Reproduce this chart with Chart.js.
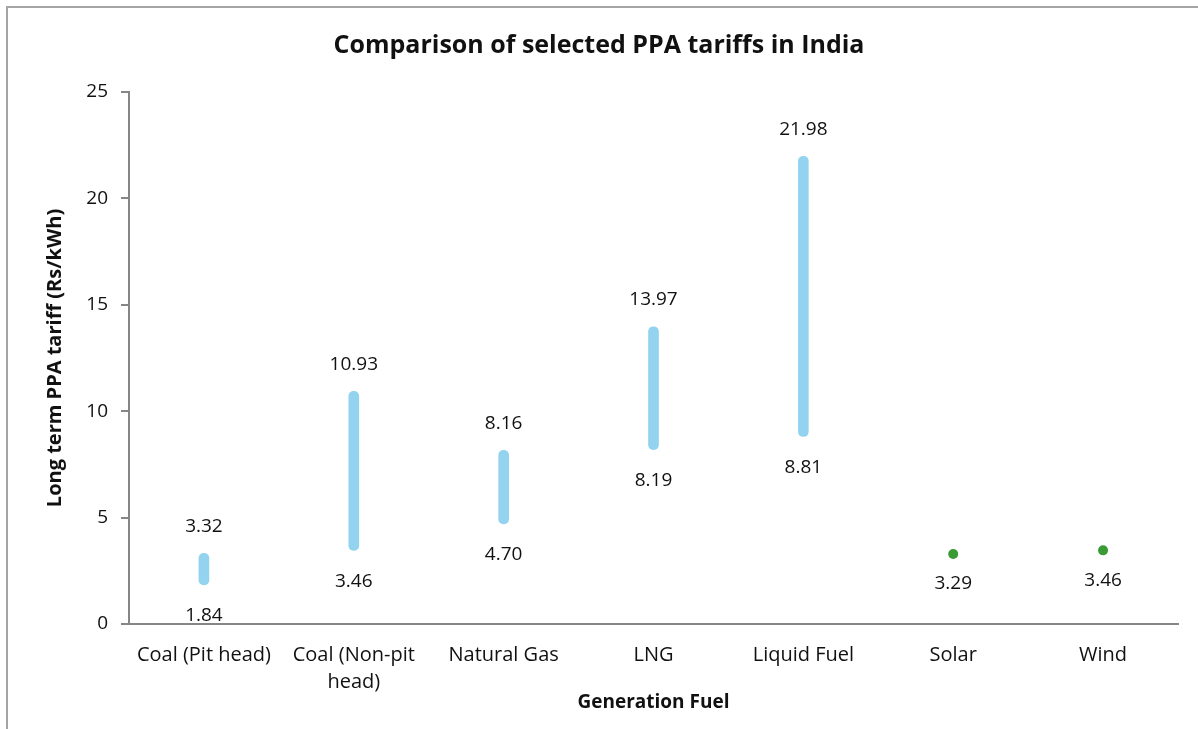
<!DOCTYPE html>
<html><head><meta charset="utf-8">
<script src="https://cdn.jsdelivr.net/npm/chart.js@4.4.0/dist/chart.umd.min.js"></script>
<style>
html,body{margin:0;padding:0;background:#fff;overflow:hidden}
#wrap{position:relative;width:1198px;height:729px}
#frame{position:absolute;left:6px;top:6px;width:1300px;height:800px;border-left:2px solid #a5a5a5;border-top:2px solid #a5a5a5;pointer-events:none}
</style></head><body>
<div id="wrap"><canvas id="c" width="1198" height="729"></canvas><div id="frame"></div></div>
<script>
const categories = ["Coal (Pit head)", ["Coal (Non-pit", "head)"], "Natural Gas", "LNG", "Liquid Fuel", "Solar", "Wind"];
const lowValues = [1.84, 3.46, 4.70, 8.19, 8.81, null, null];
const highValues = [3.32, 10.93, 8.16, 13.97, 21.98, null, null];
const pointValues = [null, null, null, null, null, 3.29, 3.46];
const yMin = 0, yMax = 25, yStep = 5;

const rangeData = lowValues.map((lo, i) => (lo == null ? null : [lo, highValues[i]]));

const labelPlugin = {
  id: 'valueLabels',
  afterDatasetsDraw(chart) {
    const ctx = chart.ctx, y = chart.scales.y;
    ctx.save();
    ctx.font = '19px "Open Sans"';
    ctx.fillStyle = '#111';
    ctx.textAlign = 'center';
    ctx.textBaseline = 'middle';
    chart.getDatasetMeta(0).data.forEach((el, i) => {
      if (highValues[i] == null) return;
      ctx.fillText(highValues[i].toFixed(2), el.x, y.getPixelForValue(highValues[i]) - 27);
      ctx.fillText(lowValues[i].toFixed(2), el.x, y.getPixelForValue(lowValues[i]) + 31);
    });
    chart.getDatasetMeta(1).data.forEach((el, i) => {
      if (pointValues[i] == null) return;
      ctx.fillText(pointValues[i].toFixed(2), el.x, el.y + 30);
    });
    ctx.restore();
  }
};

new Chart(document.getElementById('c'), {
  data: {
    labels: categories,
    datasets: [
      {
        type: 'bar',
        data: rangeData,
        backgroundColor: '#93d3ef',
        barThickness: 10,
        borderRadius: 5,
        borderSkipped: false
      },
      {
        type: 'line',
        data: pointValues,
        showLine: false,
        pointRadius: 5,
        pointHoverRadius: 5,
        pointBackgroundColor: '#3a9a34',
        pointBorderColor: '#3a9a34',
        pointBorderWidth: 0
      }
    ]
  },
  options: {
    responsive: false,
    animation: false,
    devicePixelRatio: 1,
    layout: { padding: 0 },
    plugins: {
      legend: { display: false },
      tooltip: { enabled: false },
      title: {
        display: true,
        text: 'Comparison of selected PPA tariffs in India',
        color: '#111',
        font: { family: '"Open Sans"', size: 25, weight: 'bold', lineHeight: 1.2 },
        padding: { top: 31, bottom: 31 }
      }
    },
    scales: {
      x: {
        grid: { display: false },
        border: { display: true, color: '#868686', width: 2 },
        ticks: { color: '#111', font: { family: '"Open Sans"', size: 20, lineHeight: 1.35 }, padding: 10, maxRotation: 0, autoSkip: false },
        title: {
          display: true,
          text: 'Generation Fuel',
          color: '#111',
          font: { family: '"Open Sans"', size: 19, weight: 'bold', lineHeight: 1.2 },
          padding: { top: 0, bottom: 14.6 }
        },
        afterFit(s) { s.height = 105; }
      },
      y: {
        min: yMin, max: yMax,
        ticks: { stepSize: yStep, color: '#111', font: { family: '"Open Sans"', size: 19 }, padding: 13 },
        grid: { drawOnChartArea: false, drawTicks: true, tickLength: 8, color: '#868686', lineWidth: 2 },
        border: { display: true, color: '#868686', width: 2 },
        title: {
          display: true,
          text: 'Long term PPA tariff (Rs/kWh)',
          color: '#111',
          font: { family: '"Open Sans"', size: 20, weight: 'bold', lineHeight: 1.2 },
          padding: { top: 43, bottom: 0 }
        },
        afterFit(s) { s.width = 129; }
      },
      spacer: {
        type: 'linear',
        position: 'right',
        display: true,
        grid: { display: false, drawTicks: false },
        border: { display: false },
        ticks: { display: false },
        afterFit(s) { s.width = 20; }
      }
    }
  },
  plugins: [labelPlugin]
});
</script>
</body></html>
